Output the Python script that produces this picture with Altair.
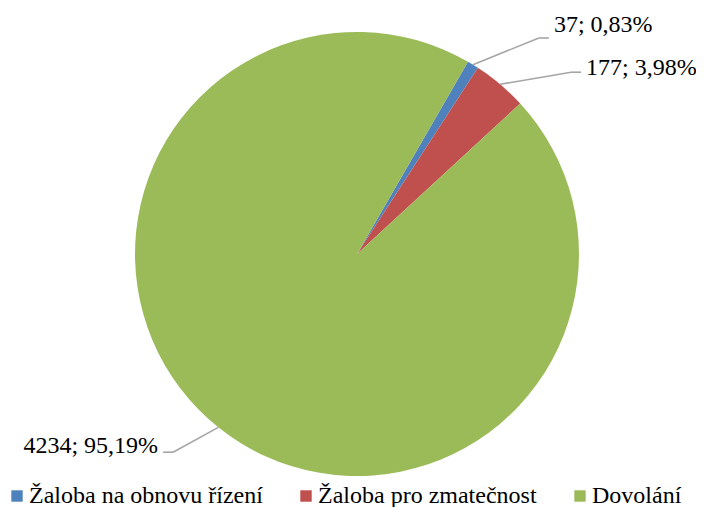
import math
import altair as alt
import pandas as pd

categories = ["Žaloba na obnovu řízení", "Žaloba pro zmatečnost", "Dovolání"]
counts = [37, 177, 4234]
colors = ["#4F81BD", "#C0504D", "#9BBB59"]

# label placement (style only): elbow angle shift (deg), elbow radius (x pie radius), baseline shift (px)
label_shift_deg = [8.6, 9.5, 4.2]
label_radius = [1.272, 1.265, 1.218]
label_dy = [-6, 3, 1]

W, H = 688, 499
CX, CY, R = 349, 246, 222
START = math.radians(30)
FONT = "'Times New Roman', 'Liberation Serif', 'DejaVu Serif', serif"

df = pd.DataFrame({
    "cat": categories,
    "count": counts,
    "idx": list(range(len(categories))),
    "shiftdeg": label_shift_deg,
    "lr": label_radius,
    "ldy": label_dy,
})

xs = alt.Scale(domain=[-CX / R, (W - CX) / R], nice=False, zero=False)
ys = alt.Scale(domain=[-(H - CY) / R, CY / R], nice=False, zero=False)

base = (
    alt.Chart(df)
    .transform_joinaggregate(total="sum(count)")
    .transform_window(cum="sum(count)", sort=[alt.SortField("idx")], frame=[None, 0])
    .transform_calculate(
        mid=f"{START} + 2*PI*(datum.cum - datum.count/2)/datum.total",
    )
    .transform_calculate(
        ea="datum.mid + datum.shiftdeg*PI/180",
        x0="sin(datum.mid)",
        y0="cos(datum.mid)",
    )
    .transform_calculate(
        x1="datum.lr*sin(datum.ea)",
        y1="datum.lr*cos(datum.ea)",
        side="sin(datum.ea) >= 0 ? 1 : -1",
    )
    .transform_calculate(
        x2=f"datum.x1 + datum.side*{10 / R}",
        xt=f"datum.x1 + datum.side*{15 / R}",
        yt=f"datum.y1 - datum.ldy/{R}",
        label="datum.count + '; ' + replace(format(100*datum.count/datum.total, '.2f'), '.', ',') + '%'",
    )
)

pie = alt.Chart(df).mark_arc(radius=R, strokeWidth=0).encode(
    theta=alt.Theta("count:Q", stack=True, scale=alt.Scale(range=[START, START + 2 * math.pi])),
    color=alt.Color(
        "cat:N",
        scale=alt.Scale(domain=categories, range=colors),
        legend=alt.Legend(
            title=None,
            orient="none",
            legendX=-3,
            legendY=476,
            direction="horizontal",
            symbolType="square",
            symbolSize=130,
            symbolStrokeWidth=0,
            labelFont=FONT,
            labelFontSize=24,
            labelColor="#000000",
            labelLimit=0,
            labelOffset=0,
            columnPadding=31,
            padding=0,
        ),
    ),
    order=alt.Order("idx:Q"),
    x=alt.X(datum=0, scale=xs, axis=None),
    y=alt.Y(datum=0, scale=ys, axis=None),
)

line_color = "#A5A5A5"
rule1 = base.mark_rule(color=line_color, strokeWidth=1.6).encode(
    x=alt.X("x0:Q", scale=xs, axis=None),
    y=alt.Y("y0:Q", scale=ys, axis=None),
    x2="x1:Q",
    y2="y1:Q",
)
rule2 = base.mark_rule(color=line_color, strokeWidth=1.6).encode(
    x=alt.X("x1:Q", scale=xs, axis=None),
    y=alt.Y("y1:Q", scale=ys, axis=None),
    x2="x2:Q",
    y2="y1:Q",
)
text_r = base.transform_filter("datum.side > 0").mark_text(
    font=FONT, fontSize=24, align="left", baseline="alphabetic", color="#000000"
).encode(
    x=alt.X("xt:Q", scale=xs, axis=None),
    y=alt.Y("yt:Q", scale=ys, axis=None),
    text="label:N",
)
text_l = base.transform_filter("datum.side < 0").mark_text(
    font=FONT, fontSize=24, align="right", baseline="alphabetic", color="#000000"
).encode(
    x=alt.X("xt:Q", scale=xs, axis=None),
    y=alt.Y("yt:Q", scale=ys, axis=None),
    text="label:N",
)

chart = (
    alt.layer(pie, rule1, rule2, text_r, text_l)
    .properties(width=W, height=H, autosize="none", padding=0, background="#ffffff")
    .configure_view(stroke=None)
)

chart.save("out.html", embed_options={"renderer": "svg", "actions": False})
